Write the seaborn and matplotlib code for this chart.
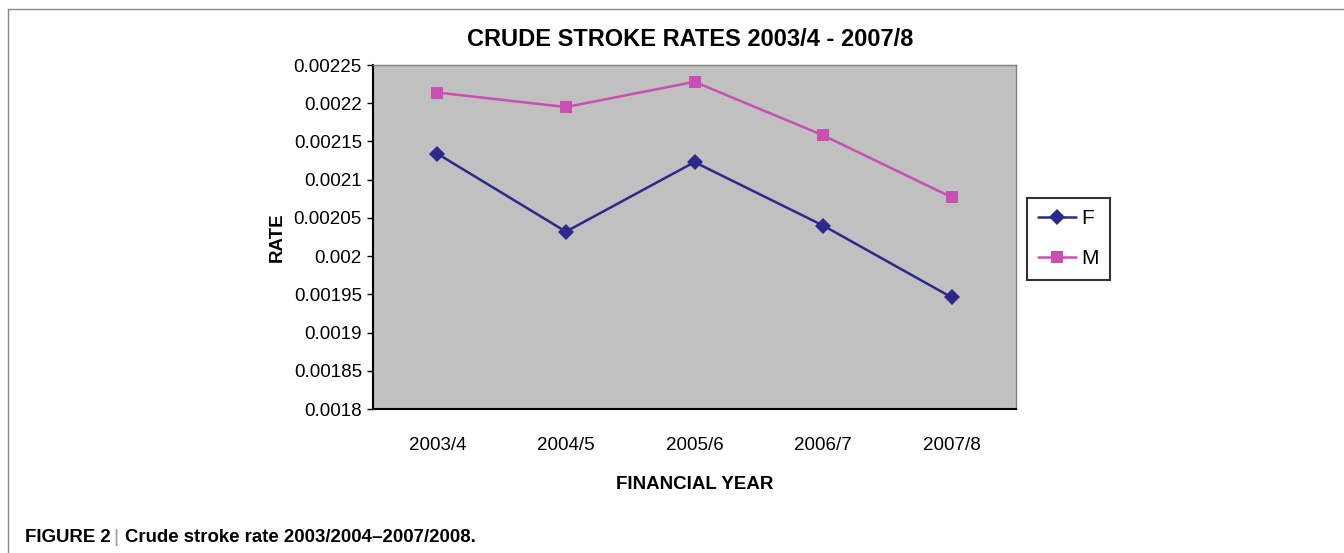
import pandas as pd
import matplotlib.pyplot as plt
import seaborn as sns
from matplotlib.lines import Line2D
from matplotlib.ticker import FixedLocator

# Data
years = ['2003/4', '2004/5', '2005/6', '2006/7', '2007/8']
female = [0.002134, 0.002032, 0.002123, 0.002040, 0.001946]
male = [0.002214, 0.002195, 0.002228, 0.002158, 0.002077]
y_ticks = [0.0018, 0.00185, 0.0019, 0.00195, 0.002, 0.00205, 0.0021, 0.00215, 0.0022, 0.00225]
y_labels = ['0.0018', '0.00185', '0.0019', '0.00195', '0.002', '0.00205', '0.0021', '0.00215', '0.0022', '0.00225']

df = pd.DataFrame({
    'year': years * 2,
    'rate': female + male,
    'sex': ['F'] * len(years) + ['M'] * len(years),
})

sns.set_style('white')
plt.rcParams['font.family'] = ['Liberation Sans Narrow', 'Liberation Sans', 'DejaVu Sans']
plt.rcParams['text.color'] = 'black'
plt.rcParams['axes.labelcolor'] = 'black'
plt.rcParams['xtick.color'] = 'black'
plt.rcParams['ytick.color'] = 'black'

fig = plt.figure(figsize=(13.44, 5.53), dpi=100)
ax = fig.add_axes([373 / 1344, 1 - 409 / 553, (1016 - 373) / 1344, (409 - 65) / 553])
ax.set_facecolor('#c0c0c0')

palette = {'F': '#2b2a8a', 'M': '#c94fb2'}
sns.lineplot(data=df, x='year', y='rate', hue='sex', style='sex',
             markers={'F': 'D', 'M': 's'}, dashes=False, palette=palette,
             markersize=8, linewidth=1.8, markeredgewidth=0, ax=ax, legend=False)

ax.set_xlim(-0.5, 4.5)
ax.set_ylim(0.0018, 0.00225)
ax.yaxis.set_major_locator(FixedLocator(y_ticks))
ax.set_yticklabels(y_labels)
ax.set_xticks(range(len(years)))
ax.set_xticklabels(years)
ax.xaxis.set_minor_locator(FixedLocator([i - 0.5 for i in range(len(years) + 1)]))
ax.tick_params(axis='x', which='major', length=0, pad=20, labelsize=13.5)
ax.tick_params(axis='x', which='minor', length=5, width=1, color='black', direction='out')
ax.tick_params(axis='y', length=4, width=1, color='black', direction='out', labelsize=13.5, pad=4, left=True)

for side in ['left', 'bottom']:
    ax.spines[side].set_color('black')
    ax.spines[side].set_linewidth(1.5)
for side in ['top', 'right']:
    ax.spines[side].set_color('#7f7f7f')
    ax.spines[side].set_linewidth(1)

ax.set_xlabel('FINANCIAL YEAR', fontsize=13.5, fontweight='bold', labelpad=16)
ax.set_ylabel('RATE', fontsize=13.5, fontweight='bold', labelpad=6)
fig.text(690 / 1344, 1 - 39 / 553, 'CRUDE STROKE RATES 2003/4 - 2007/8',
         fontsize=17, fontweight='bold', ha='center', va='center')

handles = [
    Line2D([], [], color=palette['F'], marker='D', markersize=8, markeredgewidth=0, linewidth=1.8),
    Line2D([], [], color=palette['M'], marker='s', markersize=8, markeredgewidth=0, linewidth=1.8),
]
leg = fig.legend(handles, ['F', 'M'], loc='upper left', bbox_to_anchor=(1027 / 1344, 1 - 198 / 553),
                 frameon=True, fancybox=False, edgecolor='black', fontsize=15,
                 handlelength=1.8, handletextpad=0.25, borderpad=0.55, labelspacing=1.0,
                 borderaxespad=0)
leg.get_frame().set_linewidth(1.5)

# outer frame and caption
fig.add_artist(Line2D([8 / 1344, 1], [1 - 9 / 553, 1 - 9 / 553], color='#888888', linewidth=1))
fig.add_artist(Line2D([8 / 1344, 8 / 1344], [0, 1 - 9 / 553], color='#888888', linewidth=1))
fig.text(25 / 1344, 1 - 537 / 553, 'FIGURE 2', fontsize=13.4, fontweight='bold',
         family=['Liberation Sans', 'DejaVu Sans'], va='center', ha='left')
fig.text(113 / 1344, 1 - 537 / 553, '|', fontsize=14, color='#999999',
         family=['Liberation Sans', 'DejaVu Sans'], va='center', ha='left')
fig.text(125 / 1344, 1 - 537 / 553, 'Crude stroke rate 2003/2004\u20132007/2008.', fontsize=13.4,
         fontweight='bold', family=['Liberation Sans', 'DejaVu Sans'], va='center', ha='left')

fig.savefig('out.png', dpi=100)
